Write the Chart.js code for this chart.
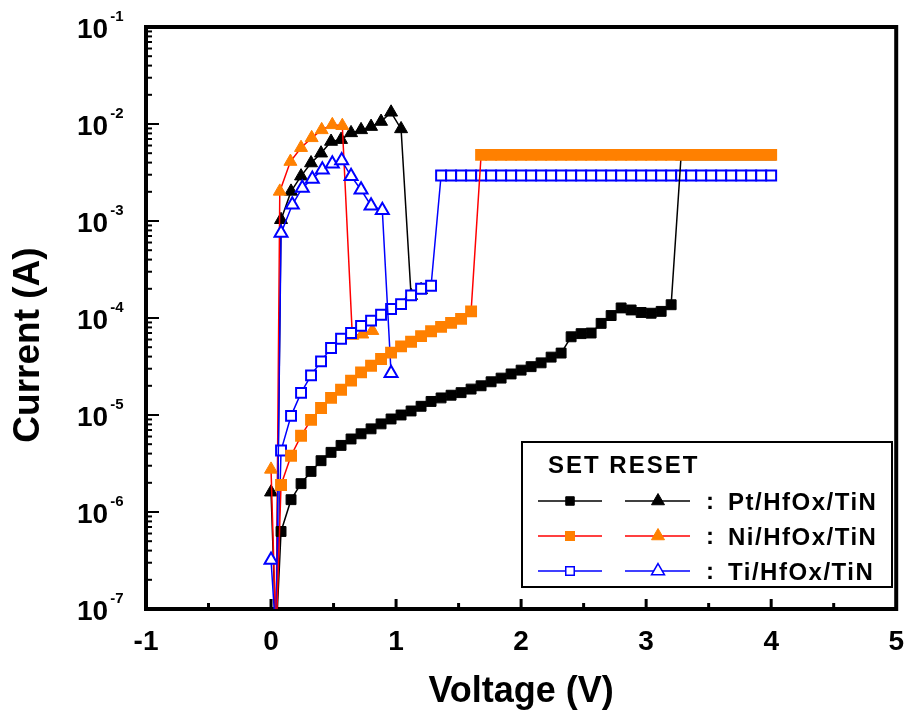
<!DOCTYPE html>
<html>
<head>
<meta charset="utf-8">
<script src="https://cdn.jsdelivr.net/npm/chart.js@4.4.1/dist/chart.umd.min.js"></script>
<style>
  html, body { margin: 0; padding: 0; background: #fff; }
  #ivChart { display: block; }
</style>
</head>
<body>
<canvas id="ivChart" width="920" height="717"></canvas>
<script>
const FONT = "'Liberation Sans', Arial, Helvetica, sans-serif";

// Pt/HfOx/TiN
const ptSetV = [0.04, 0.08, 0.16, 0.24, 0.32, 0.40, 0.48, 0.56, 0.64, 0.72, 0.80, 0.88, 0.96, 1.04, 1.12, 1.20,
  1.28, 1.36, 1.44, 1.52, 1.60, 1.68, 1.76, 1.84, 1.92, 2.00, 2.08, 2.16, 2.24, 2.32, 2.40, 2.48, 2.56, 2.64,
  2.72, 2.80, 2.88, 2.96, 3.04, 3.12, 3.20, 3.28, 3.36, 3.44, 3.52, 3.60, 3.68, 3.76, 3.84, 3.92, 4.00];
const ptSetI = [5e-8, 6.3e-7, 1.34e-6, 1.96e-6, 2.62e-6, 3.38e-6, 4.12e-6, 4.86e-6, 5.66e-6, 6.4e-6, 7.2e-6,
  8.1e-6, 9.1e-6, 1.0e-5, 1.1e-5, 1.23e-5, 1.38e-5, 1.5e-5, 1.6e-5, 1.7e-5, 1.85e-5, 2.0e-5, 2.2e-5, 2.4e-5,
  2.65e-5, 2.9e-5, 3.15e-5, 3.45e-5, 3.95e-5, 4.35e-5, 6.4e-5, 6.9e-5, 7.0e-5, 8.8e-5, 1.06e-4, 1.27e-4,
  1.21e-4, 1.14e-4, 1.12e-4, 1.17e-4, 1.37e-4, 4.8e-3, 4.8e-3, 4.8e-3, 4.8e-3, 4.8e-3, 4.8e-3, 4.8e-3, 4.8e-3,
  4.8e-3, 4.8e-3];
const ptResetV = [0.00, 0.04, 0.08, 0.16, 0.24, 0.32, 0.40, 0.48, 0.56, 0.64, 0.72, 0.80, 0.88, 0.96, 1.04, 1.12, 1.20];
const ptResetI = [1.6e-6, 5e-8, 1.03e-3, 2.02e-3, 2.9e-3, 3.96e-3, 5.0e-3, 6.6e-3, 6.9e-3, 8.1e-3, 8.7e-3,
  9.4e-3, 1.06e-2, 1.32e-2, 8.9e-3, 1.7e-4, 1.95e-4];

// Ni/HfOx/TiN
const niSetV = [0.04, 0.08, 0.16, 0.24, 0.32, 0.40, 0.48, 0.56, 0.64, 0.72, 0.80, 0.88, 0.96, 1.04, 1.12, 1.20,
  1.28, 1.36, 1.44, 1.52, 1.60, 1.68, 1.76, 1.84, 1.92, 2.00, 2.08, 2.16, 2.24, 2.32, 2.40, 2.48, 2.56, 2.64,
  2.72, 2.80, 2.88, 2.96, 3.04, 3.12, 3.20, 3.28, 3.36, 3.44, 3.52, 3.60, 3.68, 3.76, 3.84, 3.92, 4.00];
const niSetI = [5e-8, 1.9e-6, 3.8e-6, 6.1e-6, 8.9e-6, 1.18e-5, 1.5e-5, 1.82e-5, 2.26e-5, 2.75e-5, 3.22e-5,
  3.78e-5, 4.4e-5, 5.1e-5, 5.7e-5, 6.5e-5, 7.3e-5, 8.1e-5, 8.9e-5, 9.8e-5, 1.17e-4,
  4.8e-3, 4.8e-3, 4.8e-3, 4.8e-3, 4.8e-3, 4.8e-3, 4.8e-3, 4.8e-3, 4.8e-3, 4.8e-3,
  4.8e-3, 4.8e-3, 4.8e-3, 4.8e-3, 4.8e-3, 4.8e-3, 4.8e-3, 4.8e-3, 4.8e-3, 4.8e-3,
  4.8e-3, 4.8e-3, 4.8e-3, 4.8e-3, 4.8e-3, 4.8e-3, 4.8e-3, 4.8e-3, 4.8e-3, 4.8e-3];
const niResetV = [0.00, 0.04, 0.07, 0.155, 0.24, 0.325, 0.405, 0.49, 0.57, 0.65, 0.73, 0.81];
const niResetI = [2.75e-6, 5e-8, 2.02e-3, 4.1e-3, 5.7e-3, 7.2e-3, 8.7e-3, 9.8e-3, 9.6e-3, 6.6e-5, 6.8e-5, 7.4e-5];

// Ti/HfOx/TiN
const tiSetV = [0.04, 0.08, 0.16, 0.24, 0.32, 0.40, 0.48, 0.56, 0.64, 0.72, 0.80, 0.88, 0.96, 1.04, 1.12, 1.20,
  1.28, 1.36, 1.44, 1.52, 1.60, 1.68, 1.76, 1.84, 1.92, 2.00, 2.08, 2.16, 2.24, 2.32, 2.40, 2.48, 2.56, 2.64,
  2.72, 2.80, 2.88, 2.96, 3.04, 3.12, 3.20, 3.28, 3.36, 3.44, 3.52, 3.60, 3.68, 3.76, 3.84, 3.92, 4.00];
const tiSetI = [5e-8, 4.3e-6, 9.8e-6, 1.69e-5, 2.56e-5, 3.57e-5, 4.9e-5, 6.1e-5, 7.0e-5, 8.3e-5, 9.4e-5,
  1.08e-4, 1.24e-4, 1.39e-4, 1.71e-4, 2.0e-4, 2.15e-4,
  2.95e-3, 2.95e-3, 2.95e-3, 2.95e-3, 2.95e-3, 2.95e-3, 2.95e-3, 2.95e-3, 2.95e-3, 2.95e-3,
  2.95e-3, 2.95e-3, 2.95e-3, 2.95e-3, 2.95e-3, 2.95e-3, 2.95e-3, 2.95e-3, 2.95e-3, 2.95e-3,
  2.95e-3, 2.95e-3, 2.95e-3, 2.95e-3, 2.95e-3, 2.95e-3, 2.95e-3, 2.95e-3, 2.95e-3, 2.95e-3,
  2.95e-3, 2.95e-3, 2.95e-3, 2.95e-3];
const tiResetV = [0.00, 0.04, 0.08, 0.17, 0.25, 0.33, 0.41, 0.49, 0.565, 0.64, 0.72, 0.80, 0.89, 0.96];
const tiResetI = [3.2e-7, 5e-8, 7.5e-4, 1.47e-3, 2.19e-3, 2.71e-3, 3.38e-3, 3.9e-3, 4.2e-3, 2.9e-3, 2.1e-3,
  1.44e-3, 1.29e-3, 2.7e-5];

const yExponents = [-7, -6, -5, -4, -3, -2, -1];
const legendRows = ['Pt/HfOx/TiN', 'Ni/HfOx/TiN', 'Ti/HfOx/TiN'];

function points(v, i) {
  return v.map((x, k) => ({ x: x, y: i[k] }));
}

function curve(label, v, i, line, shape, fill, edge, edgeWidth) {
  return {
    label: label,
    data: points(v, i),
    borderColor: line,
    borderWidth: 1.5,
    pointStyle: shape,
    pointRadius: shape === 'rect' ? 7 : 7.5,
    pointBackgroundColor: fill,
    pointBorderColor: edge,
    pointBorderWidth: edgeWidth,
    clip: 0
  };
}

// first dataset is drawn on top
const datasets = [
  curve('Ni/HfOx/TiN SET', niSetV, niSetI, '#ff0000', 'rect', '#ff8000', '#ff8000', 2),
  curve('Pt/HfOx/TiN SET', ptSetV, ptSetI, '#000000', 'rect', '#000000', '#000000', 1),
  curve('Ti/HfOx/TiN RESET', tiResetV, tiResetI, '#0000ff', 'triangle', '#ffffff', '#0000ff', 2),
  curve('Ti/HfOx/TiN SET', tiSetV, tiSetI, '#0000ff', 'rect', '#ffffff', '#0000ff', 2),
  curve('Ni/HfOx/TiN RESET', niResetV, niResetI, '#ff0000', 'triangle', '#ff8000', '#ff8000', 1),
  curve('Pt/HfOx/TiN RESET', ptResetV, ptResetI, '#000000', 'triangle', '#000000', '#000000', 1)
];

function marker(ctx, shape, x, y, r, fill, edge, lw) {
  ctx.beginPath();
  if (shape === 'rect') {
    const s = r * Math.SQRT1_2;
    ctx.rect(x - s, y - s, 2 * s, 2 * s);
  } else {
    ctx.moveTo(x, y - r);
    ctx.lineTo(x + r * 0.866, y + r / 2);
    ctx.lineTo(x - r * 0.866, y + r / 2);
    ctx.closePath();
  }
  ctx.fillStyle = fill;
  ctx.fill();
  ctx.lineWidth = lw;
  ctx.strokeStyle = edge;
  ctx.stroke();
}

const framePlugin = {
  id: 'frame',
  afterDraw(chart) {
    const { ctx, chartArea: a, scales } = chart;
    const xs = scales.x, ys = scales.y;
    ctx.save();

    // top and right edges of the box
    ctx.strokeStyle = '#000';
    ctx.lineWidth = 4;
    ctx.beginPath();
    ctx.moveTo(a.left - 2, a.top);
    ctx.lineTo(a.right, a.top);
    ctx.lineTo(a.right, a.bottom + 2);
    ctx.stroke();

    // inward ticks on x
    ctx.lineWidth = 3;
    for (let v = xs.min + 0.5; v < xs.max; v += 0.5) {
      const px = xs.getPixelForValue(v);
      const len = Number.isInteger(v) ? 10 : 6;
      ctx.beginPath();
      ctx.moveTo(px, a.bottom);
      ctx.lineTo(px, a.bottom - len);
      ctx.stroke();
    }

    // inward ticks on y (decades and 2..9)
    ctx.lineWidth = 2;
    for (let e = -7; e < -1; e++) {
      for (let m = 1; m <= 9; m++) {
        if (e === -7 && m === 1) continue;
        const py = ys.getPixelForValue(m * Math.pow(10, e));
        const len = m === 1 ? 13 : 6;
        ctx.beginPath();
        ctx.moveTo(a.left, py);
        ctx.lineTo(a.left + len, py);
        ctx.stroke();
      }
    }

    // y tick labels 10^n
    ctx.fillStyle = '#000';
    ctx.textAlign = 'left';
    ctx.textBaseline = 'alphabetic';
    yExponents.forEach(e => {
      const py = ys.getPixelForValue(Math.pow(10, e));
      ctx.font = 'bold 28px ' + FONT;
      ctx.fillText('10', 77, py + 11);
      const w = ctx.measureText('10').width;
      ctx.font = 'bold 15px ' + FONT;
      ctx.fillText(String(e), 77 + w + 2, py - 6);
    });

    // y axis title, sits a little below the middle of the axis
    ctx.save();
    ctx.translate(29, 345);
    ctx.rotate(-Math.PI / 2);
    ctx.textAlign = 'center';
    ctx.textBaseline = 'middle';
    ctx.font = 'bold 37px ' + FONT;
    ctx.fillText('Current (A)', 0, 0);
    ctx.restore();

    // legend
    const bx = 522, by = 442, bw = 370, bh = 145;
    ctx.fillStyle = '#fff';
    ctx.fillRect(bx, by, bw, bh);
    ctx.lineWidth = 2;
    ctx.strokeStyle = '#000';
    ctx.strokeRect(bx, by, bw, bh);

    ctx.fillStyle = '#000';
    ctx.font = 'bold 24px ' + FONT;
    ctx.letterSpacing = '2px';
    ctx.fillText('SET RESET', 548, 473);

    legendRows.forEach((name, r) => {
      const cy = 501 + r * 35;
      const set = chart.data.datasets.find(d => d.label === name + ' SET');
      const reset = chart.data.datasets.find(d => d.label === name + ' RESET');
      [[set, 538, 602, 570], [reset, 625, 690, 658]].forEach(([d, x1, x2, xm]) => {
        ctx.strokeStyle = d.borderColor;
        ctx.lineWidth = 1.5;
        ctx.beginPath();
        ctx.moveTo(x1, cy);
        ctx.lineTo(x2, cy);
        ctx.stroke();
        const r0 = d.pointStyle === 'rect' ? 6 : 7.5;
        marker(ctx, d.pointStyle, xm, cy, r0, d.pointBackgroundColor, d.pointBorderColor, Math.min(d.pointBorderWidth, 1.5));
      });
      ctx.fillStyle = '#000';
      ctx.font = 'bold 24px ' + FONT;
      ctx.letterSpacing = '0px';
      ctx.textAlign = 'center';
      ctx.fillText(':', 710, cy + 8);
      ctx.textAlign = 'left';
      ctx.letterSpacing = '1.5px';
      ctx.fillText(name, 728, cy + 8.5);
    });
    ctx.restore();
  }
};

new Chart(document.getElementById('ivChart'), {
  type: 'line',
  data: { datasets: datasets },
  options: {
    responsive: false,
    animation: false,
    layout: { padding: { top: 27, right: 12, left: 0, bottom: 0 } },
    elements: { line: { tension: 0 } },
    plugins: { legend: { display: false }, tooltip: { enabled: false } },
    scales: {
      x: {
        type: 'linear',
        min: -1,
        max: 5,
        ticks: {
          stepSize: 1,
          color: '#000',
          padding: 16,
          maxRotation: 0,
          font: { family: FONT, size: 28, weight: 'bold' }
        },
        grid: { display: false, drawTicks: false },
        border: { display: true, color: '#000', width: 4 },
        title: {
          display: true,
          text: 'Voltage (V)',
          color: '#000',
          font: { family: FONT, size: 36, weight: 'bold' },
          padding: { top: 0, bottom: 3 }
        },
        afterFit(scale) { scale.height = 108; }
      },
      y: {
        type: 'logarithmic',
        min: 1e-7,
        max: 1e-1,
        ticks: { display: false },
        grid: { display: false, drawTicks: false },
        border: { display: true, color: '#000', width: 4 },
        title: { display: false },
        afterFit(scale) { scale.width = 146; }
      }
    }
  },
  plugins: [framePlugin]
});
</script>
</body>
</html>
